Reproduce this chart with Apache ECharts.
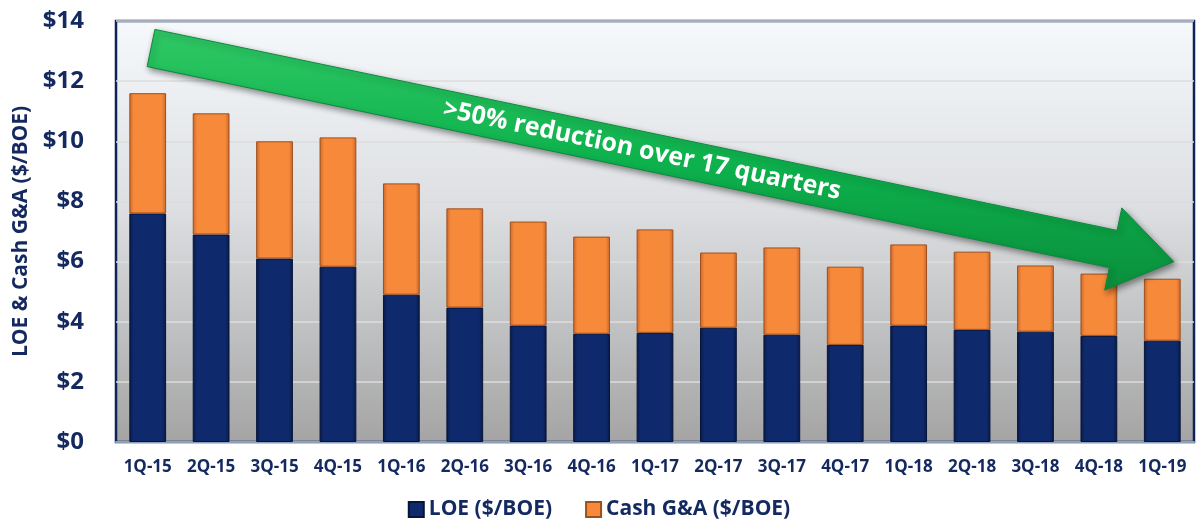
<!DOCTYPE html>
<html>
<head>
<meta charset="utf-8">
<script src="https://cdn.jsdelivr.net/npm/echarts@6/dist/echarts.min.js"></script>
<style>html,body{margin:0;padding:0;background:#fff}#c{width:1198px;height:520px}</style>
</head>
<body>
<div id="c"></div>
<script>
const categories = ['1Q-15','2Q-15','3Q-15','4Q-15','1Q-16','2Q-16','3Q-16','4Q-16','1Q-17','2Q-17','3Q-17','4Q-17','1Q-18','2Q-18','3Q-18','4Q-18','1Q-19'];
const loe = [7.6, 6.9, 6.1, 5.83, 4.9, 4.47, 3.87, 3.6, 3.63, 3.8, 3.57, 3.23, 3.87, 3.73, 3.67, 3.53, 3.37];
const cashGA = [4.0, 4.03, 3.9, 4.3, 3.7, 3.3, 3.46, 3.23, 3.44, 2.5, 2.9, 2.6, 2.7, 2.6, 2.2, 2.07, 2.06];
const yTicks = [0, 2, 4, 6, 8, 10, 12, 14];
const seriesNames = ['LOE ($/BOE)', 'Cash G&A ($/BOE)'];
const annotationText = '>50% reduction over 17 quarters';

const navy = '#14295f';
const font = '"Open Sans", "Noto Sans", sans-serif';

function hGrad(edge, mid) {
  return new echarts.graphic.LinearGradient(0, 0, 1, 0, [
    {offset: 0, color: edge}, {offset: 0.12, color: mid},
    {offset: 0.88, color: mid}, {offset: 1, color: edge}
  ]);
}

const chart = echarts.init(document.getElementById('c'), null, {renderer: 'canvas'});

// arrow geometry (annotation)
const S = [151, 48], ang = Math.atan2(0.2045, 0.979);
const dx = Math.cos(ang), dy = Math.sin(ang), px = -dy, py = dx;
const half = 19, headHalf = 42, shaftLen = 983, headLen = 62;
const P = (t, o) => [S[0] + dx * t + px * o, S[1] + dy * t + py * o];
const arrowPts = [P(0, -half), P(shaftLen, -half), P(shaftLen, -headHalf), P(shaftLen + headLen, 0),
  P(shaftLen, headHalf), P(shaftLen, half), P(0, half)];
const textPos = P(491 / dx, 0);

chart.setOption({
  animation: false,
  grid: {
    left: 116, right: 4, top: 21, bottom: 78, show: true,
    backgroundColor: new echarts.graphic.LinearGradient(0, 0, 0, 1, [
      {offset: 0, color: '#f6f9fc'}, {offset: 0.45, color: '#dcdee1'}, {offset: 1, color: '#a4a4a4'}
    ]),
    borderColor: '#0f2357', borderWidth: 2.5
  },
  legend: {
    data: seriesNames, top: 494, left: 'center', itemWidth: 15, itemHeight: 15, itemGap: 33,
    icon: 'rect',
    textStyle: {fontFamily: font, fontSize: 21, fontWeight: 'bold', color: navy}
  },
  xAxis: {
    type: 'category', data: categories,
    axisLine: {lineStyle: {color: '#8fa0bb', width: 2}},
    axisTick: {show: false},
    axisLabel: {fontFamily: font, fontSize: 17, fontWeight: 'bold', color: navy, margin: 17}
  },
  yAxis: {
    type: 'value', min: yTicks[0], max: yTicks[yTicks.length - 1], interval: 2,
    name: 'LOE & Cash G&A ($/BOE)', nameLocation: 'middle', nameGap: 81,
    nameTextStyle: {fontFamily: font, fontSize: 21, fontWeight: 'bold', color: navy},
    axisLine: {show: false}, axisTick: {show: false},
    splitLine: {lineStyle: {color: '#dcdcdc', width: 1.5}},
    axisLabel: {fontFamily: font, fontSize: 24, fontWeight: 'bold', color: navy, margin: 32,
      formatter: v => '$' + v}
  },
  series: [
    {
      name: seriesNames[0], type: 'bar', stack: 'a', data: loe, barWidth: '58%',
      itemStyle: {color: hGrad('#081a47', '#0f2a6c'), borderColor: '#06143a', borderWidth: 1}
    },
    {
      name: seriesNames[1], type: 'bar', stack: 'a', data: cashGA, barWidth: '58%',
      itemStyle: {color: hGrad('#c8672a', '#f7893b'), borderColor: '#9e4f1c', borderWidth: 1}
    }
  ],
  graphic: [
    {
      type: 'polygon', z: 100,
      shape: {points: arrowPts},
      style: {
        fill: new echarts.graphic.LinearGradient(0, 0, 0, 1, [
          {offset: 0, color: '#2fc865'}, {offset: 0.5, color: '#0db24d'}, {offset: 1, color: '#0a8f3c'}
        ]),
        stroke: '#0a8a3a', lineWidth: 1,
        shadowBlur: 6, shadowColor: 'rgba(0,0,0,0.45)', shadowOffsetX: 2, shadowOffsetY: 3
      }
    },
    {
      type: 'text', z: 101, x: textPos[0], y: textPos[1], rotation: -ang,
      style: {
        text: annotationText, fill: '#ffffff', fontFamily: font, fontSize: 25, fontWeight: 'bold',
        textAlign: 'center', textVerticalAlign: 'middle', align: 'center', verticalAlign: 'middle'
      }
    }
  ]
});
</script>
</body>
</html>
